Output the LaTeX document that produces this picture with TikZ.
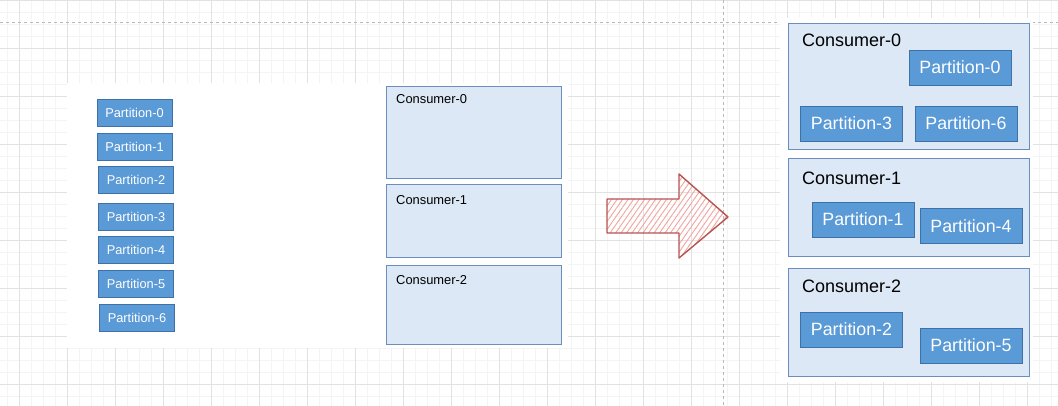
\documentclass[tikz,border=0pt]{standalone}
\usepackage{fontspec}
\setmainfont{Liberation Sans}
\usetikzlibrary{patterns.meta}
\definecolor{partfill}{RGB}{90,154,214}
\definecolor{partline}{RGB}{62,113,168}
\definecolor{consfill}{RGB}{220,232,245}
\definecolor{consline}{RGB}{108,142,191}
\definecolor{arrowline}{RGB}{184,84,80}
\definecolor{arrowhatch}{RGB}{240,165,160}
\definecolor{gridmajor}{RGB}{226,226,226}
\definecolor{gridminor}{RGB}{244,244,244}
\definecolor{pageline}{RGB}{185,185,185}
\tikzset{
  part/.style={draw=partline, line width=0.8pt, fill=partfill, text=white, minimum width=75pt, minimum height=27pt, inner sep=0pt, font=\fontsize{12.8}{14}\selectfont},
  bigpart/.style={part, minimum width=102pt, minimum height=35pt, font=\fontsize{17.8}{20}\selectfont},
  cons/.style={draw=consline, line width=0.8pt, fill=consfill, inner sep=0pt, anchor=north west},
  conslabel/.style={anchor=base west, inner sep=0pt, font=\fontsize{12.9}{14}\selectfont},
  bigconslabel/.style={conslabel, font=\fontsize{18}{20}\selectfont}
}
\begin{document}
\begin{tikzpicture}[x=1pt, y=-1pt]
  \useasboundingbox (0,0) rectangle (1058,406);
  \fill[white] (0,0) rectangle (1058,406);
  % background grid
  \foreach \x in {7,19,...,1058} \draw[gridminor, line width=0.7pt] (\x,0) -- (\x,406);
  \foreach \y in {12,24,...,406} \draw[gridminor, line width=0.7pt] (0,\y) -- (1058,\y);
  \foreach \x in {19,67,...,1058} \draw[gridmajor, line width=0.8pt] (\x,0) -- (\x,406);
  \foreach \y in {0,48,...,406} \draw[gridmajor, line width=0.8pt] (0,\y) -- (1058,\y);
  % page breaks
  \draw[pageline, dashed, line width=0.6pt] (0,22) -- (1058,22);
  \draw[pageline, dashed, line width=0.6pt] (723,0) -- (723,406);
  \fill[white] (67,83) rectangle (568,348);
  \fill[white] (780,18) rectangle (1033,382);

  % before
  \foreach \i/\x/\y in {0/134.5/112.5, 1/134.5/146.5, 2/136/180, 3/136/217, 4/136/249.5, 5/136/283.5, 6/137/317.5}
    \node[part] (lp\i) at (\x,\y) {Partition-\i};
  \node[cons, minimum width=175pt, minimum height=92pt] (lc0) at (386,86) {};
  \node[cons, minimum width=175pt, minimum height=73pt] (lc1) at (386,184) {};
  \node[cons, minimum width=175pt, minimum height=79pt] (lc2) at (386,265) {};
  \node[conslabel] (lc0t) at (396,104) {Consumer-0};
  \node[conslabel] (lc1t) at (396,205) {Consumer-1};
  \node[conslabel] (lc2t) at (396,284) {Consumer-2};

  % arrow
  \draw[arrowline, line width=1.4pt, line join=round,
        pattern={Lines[angle=55, distance=4.5pt, line width=0.9pt]}, pattern color=arrowhatch]
    (607,199) -- (679,199) -- (679,174) -- (728,217) -- (679,258) -- (679,233) -- (607,233) -- cycle;

  % after
  \node[cons, minimum width=241pt, minimum height=126pt] (rc0) at (788,23) {};
  \node[cons, minimum width=241pt, minimum height=98pt] (rc1) at (788,158) {};
  \node[cons, minimum width=241pt, minimum height=108pt] (rc2) at (788,268) {};
  \node[bigconslabel] (rc0t) at (802,46.5) {Consumer-0};
  \node[bigconslabel] (rc1t) at (802,185) {Consumer-1};
  \node[bigconslabel] (rc2t) at (802,293) {Consumer-2};
  \node[bigpart] (rp0) at (960,67.5) {Partition-0};
  \node[bigpart] (rp3) at (851.5,123.5) {Partition-3};
  \node[bigpart] (rp6) at (966,123.5) {Partition-6};
  \node[bigpart] (rp1) at (863,219.5) {Partition-1};
  \node[bigpart] (rp4) at (971,226) {Partition-4};
  \node[bigpart] (rp2) at (851.5,329.5) {Partition-2};
  \node[bigpart] (rp5) at (971,345.5) {Partition-5};
\end{tikzpicture}
\end{document}
